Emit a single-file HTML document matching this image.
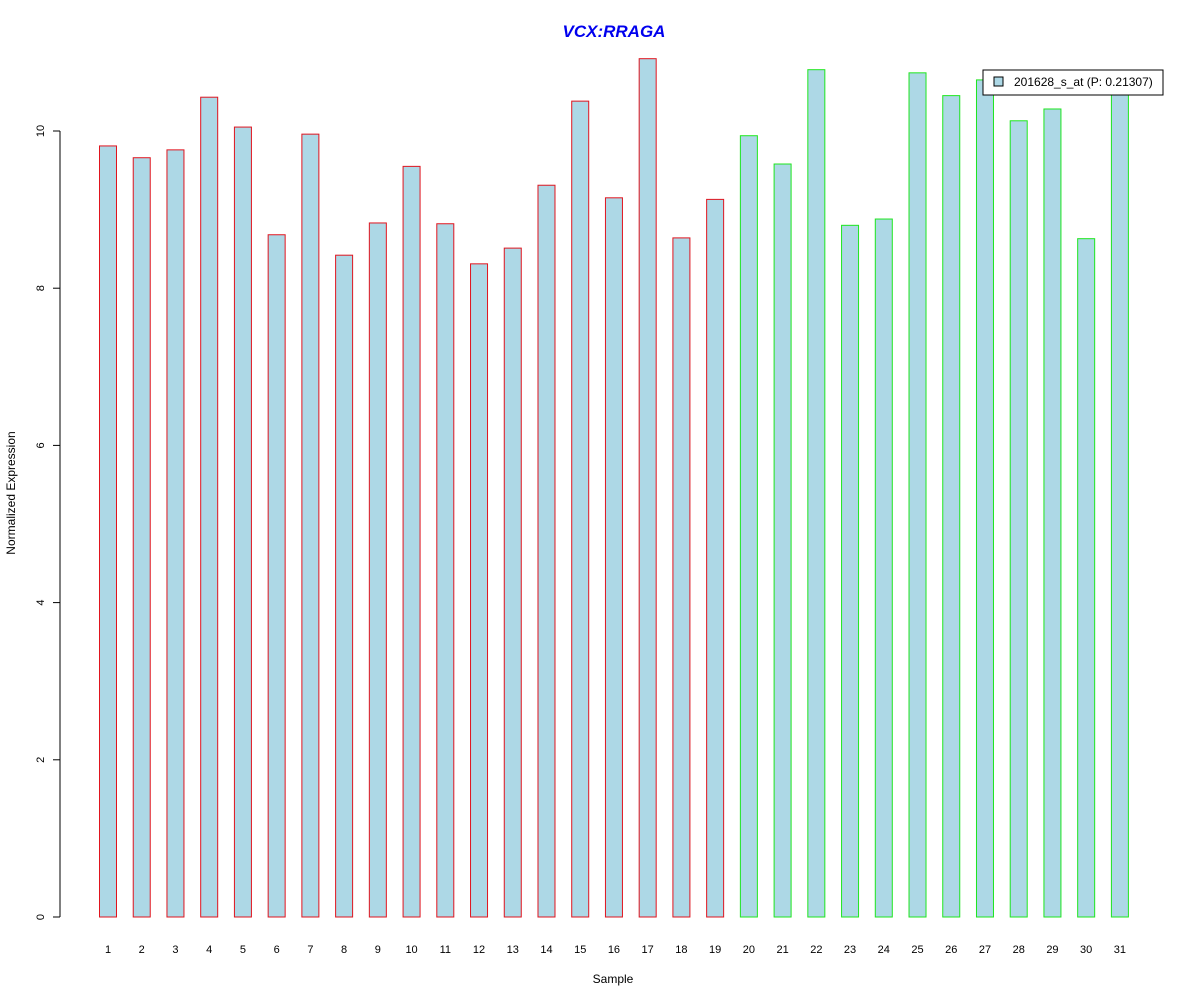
<!DOCTYPE html>
<html><head><meta charset="utf-8"><style>
body{margin:0;background:#fff}
svg text{font-family:"Liberation Sans",Arial,sans-serif}
</style></head><body>
<svg id="chart" width="1200" height="1000" xmlns="http://www.w3.org/2000/svg">
<rect width="1200" height="1000" fill="#fff"/>
<text x="614" y="37" text-anchor="middle" font-size="17" font-weight="bold" font-style="italic" fill="#0000ee">VCX:RRAGA</text>
<g id="bars"></g>
<g id="yaxis"></g>
<g id="xaxis"></g>
<text x="613" y="983" text-anchor="middle" font-size="12">Sample</text>
<text transform="translate(15,493) rotate(-90)" text-anchor="middle" font-size="12">Normalized Expression</text>
<g>
<rect x="983" y="70" width="180" height="25" fill="#fff" stroke="#000"/>
<rect x="994" y="77" width="9" height="9" fill="#add8e6" stroke="#000"/>
<text x="1014" y="86" font-size="12">201628_s_at (P: 0.21307)</text>
</g>
</svg>
<script>
const samples=[1,2,3,4,5,6,7,8,9,10,11,12,13,14,15,16,17,18,19,20,21,22,23,24,25,26,27,28,29,30,31];
const values=[9.81,9.66,9.76,10.43,10.05,8.68,9.96,8.42,8.83,9.55,8.82,8.31,8.51,9.31,10.38,9.15,10.92,8.64,9.13,9.94,9.58,10.78,8.80,8.88,10.74,10.45,10.65,10.13,10.28,8.63,10.55];
const groups=["r","r","r","r","r","r","r","r","r","r","r","r","r","r","r","r","r","r","r","g","g","g","g","g","g","g","g","g","g","g","g"];
const yTicks=[0,2,4,6,8,10];
const NS="http://www.w3.org/2000/svg";
function y(v){return 917-v*78.6;}
function x(i){return 108+i*33.73;}
function mk(tag,attrs,parent){const e=document.createElementNS(NS,tag);for(const k in attrs)e.setAttribute(k,attrs[k]);parent.appendChild(e);return e;}
const bars=document.getElementById('bars'),xa=document.getElementById('xaxis'),ya=document.getElementById('yaxis');
values.forEach((v,i)=>{
  const r=mk('rect',{x:x(i)-8.5,y:y(v),width:17,height:y(0)-y(v),fill:'#add8e6',stroke:groups[i]==='r'?'#e0141e':'#1ee61e'},bars);
  
  
  const t=mk('text',{x:x(i),y:953,'text-anchor':'middle','font-size':'11'},xa);
  t.textContent=samples[i];
  
  
});
mk('line',{x1:60,x2:60,y1:y(yTicks[yTicks.length-1]),y2:y(0),stroke:'#000'},ya);
yTicks.forEach(v=>{
  mk('line',{x1:53,x2:60,y1:y(v),y2:y(v),stroke:'#000'},ya);
  const t=mk('text',{transform:`translate(44,${y(v)}) rotate(-90)`,'text-anchor':'middle','font-size':'11'},ya);
  t.textContent=v;
  
  
});
</script>
</body></html>
